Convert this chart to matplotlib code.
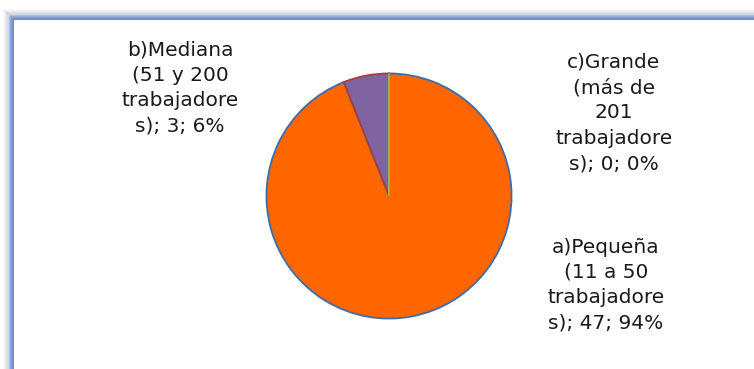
import matplotlib
matplotlib.use("Agg")
import matplotlib.pyplot as plt
from matplotlib.patches import Rectangle

categories = ["a)Pequeña\n(11 a 50\ntrabajadore\ns)",
              "b)Mediana\n(51 y 200\ntrabajadore\ns)",
              "c)Grande\n(más de\n201\ntrabajadore\ns)"]
counts = [47, 3, 0]
percents = [94, 6, 0]

slice_colors = ["#FF6600", "#8064A2", "#9BBB59"]
edge_colors = ["#3E6CA8", "#A0403D", "#9BBB59"]

W, H = 754, 369
fig = plt.figure(figsize=(W / 100, H / 100), dpi=100)
fig.patch.set_facecolor("white")


def fx(px):
    return px / W


def fy(py):
    return 1 - py / H


# frame: shadow + blue border on top and left edges
for i, a in enumerate([0.05, 0.1, 0.16, 0.22, 0.28]):
    fig.patches.append(Rectangle((fx(3 + i), 0), fx(1), fy(9 + i), transform=fig.transFigure,
                                 facecolor="#808080", alpha=a, edgecolor="none"))
    fig.patches.append(Rectangle((fx(3 + i), fy(10 + i)), 1, 1 / H, transform=fig.transFigure,
                                 facecolor="#808080", alpha=a, edgecolor="none"))
blues = ["#C8D8F0", "#A9C1E6", "#8FAEDD", "#7F9FD3", "#7594C8"]
for i, c in enumerate(blues):
    fig.patches.append(Rectangle((fx(8 + i), 0), fx(1), fy(14 + i), transform=fig.transFigure,
                                 facecolor=c, edgecolor="none"))
    fig.patches.append(Rectangle((fx(8 + i), fy(15 + i)), 1, 1 / H, transform=fig.transFigure,
                                 facecolor=c, edgecolor="none"))
fig.patches.append(Rectangle((fx(13), 0), fx(1), fy(19), transform=fig.transFigure,
                             facecolor="#8A8A8A", edgecolor="none"))
fig.patches.append(Rectangle((fx(13), fy(20)), 1, 1 / H, transform=fig.transFigure,
                             facecolor="#8A8A8A", edgecolor="none"))

# pie
cx, cy, r = 389, 196, 125
ax = fig.add_axes([fx(cx - r), fy(cy + r), 2 * r / W, 2 * r / H])
wedges, _ = ax.pie(counts, colors=slice_colors, startangle=90, counterclock=False,
                   radius=1, wedgeprops=dict(linewidth=1.3))
for w, ec in zip(wedges, edge_colors):
    w.set_edgecolor(ec)
ax.set_xlim(-1.02, 1.02)
ax.set_ylim(-1.02, 1.02)
ax.set_aspect("equal")
ax.axis("off")

# data labels
label_pos = [(606, 285), (180, 88), (614, 113)]
for cat, n, p, (lx, ly) in zip(categories, counts, percents, label_pos):
    fig.text(fx(lx), fy(ly), f"{cat}; {n}; {p}%", ha="center", va="center",
             fontsize=14.5, color="#1a1a1a", linespacing=1.42, family="DejaVu Sans")

fig.savefig("out.png", dpi=100)
